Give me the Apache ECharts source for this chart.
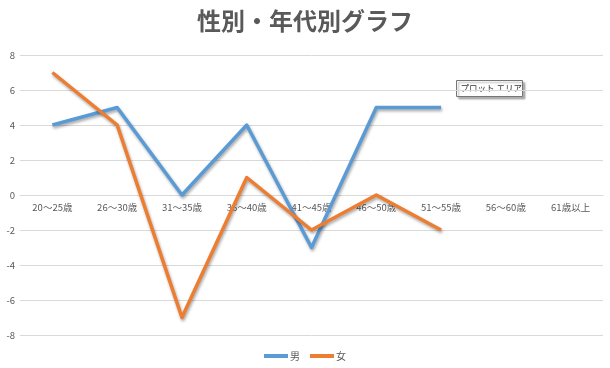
<!DOCTYPE html>
<html><head><meta charset="utf-8">
<script src="https://cdn.jsdelivr.net/npm/echarts@6/dist/echarts.min.js"></script>
<style>html,body{margin:0;padding:0;background:#fff}#c{width:610px;height:368px}</style>
</head><body><div id="c"></div>
<script>
const categories = ['20～25歳','26～30歳','31～35歳','36～40歳','41～45歳','46～50歳','51～55歳','56～60歳','61歳以上'];
const maleValues = [4,5,0,4,-3,5,5];
const femaleValues = [7,4,-7,1,-2,0,-2];
const yTicks = {min:-8, max:8, interval:2};
const font = '"Noto Sans CJK JP","Noto Sans",sans-serif';
const chart = echarts.init(document.getElementById('c'));
const lineShadow = {shadowColor:'rgba(0,0,0,0.35)', shadowBlur:3, shadowOffsetY:2, shadowOffsetX:1};
chart.setOption({
  animation:false,
  title:{text:'性別・年代別グラフ', left:'center', top:4,
    textStyle:{fontFamily:font, fontSize:24, fontWeight:'bold', color:'#595959'}},
  grid:{left:20, right:7, top:55, bottom:33},
  legend:{bottom:2, left:'center', itemWidth:24, itemHeight:4, itemGap:10,
    icon:'rect', textStyle:{fontFamily:font, fontSize:10, color:'#595959', padding:[0,0,0,-3]},
    data:['男','女']},
  xAxis:{type:'category', data:categories, boundaryGap:true, offset:-140,
    axisLine:{onZero:false, lineStyle:{color:'#d9d9d9', width:1}},
    axisTick:{show:false},
    axisLabel:{fontFamily:font, fontSize:9.5, color:'#595959', margin:8, interval:0}},
  yAxis:{type:'value', min:yTicks.min, max:yTicks.max, interval:yTicks.interval,
    axisLine:{show:false}, axisTick:{show:false},
    axisLabel:{fontFamily:font, fontSize:9.5, color:'#595959', margin:5},
    splitLine:{lineStyle:{color:'#d9d9d9', width:1}}},
  series:[
    {name:'男', type:'line', data:maleValues, symbol:'none', color:'#5B9BD5',
      lineStyle:Object.assign({width:3.5, color:'#5B9BD5', join:'round'}, lineShadow)},
    {name:'女', type:'line', data:femaleValues, symbol:'none', color:'#ED7D31',
      lineStyle:Object.assign({width:3.5, color:'#ED7D31', join:'round'}, lineShadow)}
  ],
  graphic:[{type:'group', left:456, top:80, z:100, children:[
    {type:'rect', shape:{x:0,y:0,width:66,height:16},
      style:{fill:'#fff', stroke:'#767676', lineWidth:1, shadowColor:'rgba(0,0,0,0.3)', shadowBlur:2, shadowOffsetX:2, shadowOffsetY:2}},
    {type:'text', x:4, y:3, style:{text:'プロット エリア', fontFamily:font, fontSize:8.5, fill:'#333'}}
  ]}]
});
</script></body></html>
